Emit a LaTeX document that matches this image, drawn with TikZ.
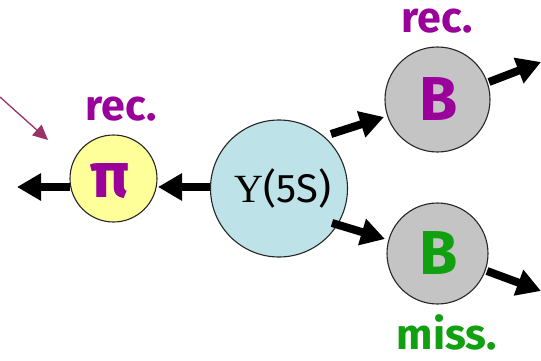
\documentclass[tikz,border=0pt]{standalone}
\usepackage{fontspec}
\setmainfont{Fira Sans}
\newfontfamily\serifgr{Liberation Serif}
\usetikzlibrary{arrows.meta}
\definecolor{recpurple}{HTML}{9A009A}
\definecolor{missgreen}{HTML}{10A010}
\definecolor{piyellow}{HTML}{FFFF99}
\definecolor{upscyan}{HTML}{BDE3E8}
\definecolor{bgray}{HTML}{C4C4C4}
\definecolor{thinarrow}{HTML}{993366}
\tikzset{
  ball/.style={circle, draw=black!85, line width=1.1pt, inner sep=0pt},
  fat/.style={line width=8pt, -{Triangle[length=24pt,width=26pt]}},
  lab/.style={font=\fontsize{43}{43}\selectfont\bfseries, inner sep=0pt, anchor=base},
}
\begin{document}
\begin{tikzpicture}[x=1pt,y=-1pt]
\useasboundingbox (0,0) rectangle (541,361);
\node[ball, fill=piyellow, minimum size=87pt] (pi) at (113.5,178.5) {};
\node[text=recpurple, font=\fontsize{64}{64}\selectfont\bfseries, inner sep=0pt] (pit) at (110,181) {π};
\node[ball, fill=upscyan, minimum size=137pt] (ups) at (279,188.5) {};
\node[inner sep=0pt, font=\fontsize{40}{40}\selectfont] (upst) at (283,188) {{\serifgr Υ}(5S)};
\node[ball, fill=bgray, minimum size=105pt] (b1) at (437.5,99.5) {};
\node[text=recpurple, font=\fontsize{62}{62}\selectfont\bfseries, inner sep=0pt] (b1t) at (439,99) {B};
\node[ball, fill=bgray, minimum size=101pt] (b2) at (437.5,253.5) {};
\node[text=missgreen, font=\fontsize{62}{62}\selectfont\bfseries, inner sep=0pt] (b2t) at (439,253) {B};
\node[lab, text=recpurple] (r1) at (121,120) {rec.};
\node[lab, text=recpurple] (r2) at (437,33) {rec.};
\node[lab, text=missgreen] (m2) at (447,349) {miss.};
\coordinate (pil) at (17,187);
\coordinate (pie) at (70,187);
\coordinate (pir) at (158,187);
\coordinate (upsw) at (210,187);
\coordinate (upsa) at (331,134);
\coordinate (b1a) at (384,117);
\coordinate (upsb) at (332,223);
\coordinate (b2a) at (385,239);
\coordinate (b1o) at (489,82);
\coordinate (b1r) at (541,62);
\coordinate (b2o) at (487,271);
\coordinate (b2r) at (541,291);
\coordinate (ts) at (0,97);
\coordinate (te) at (48,140);
\draw[fat] (pie) -- (pil);
\draw[fat] (upsw) -- (pir);
\draw[fat] (upsa) -- (b1a);
\draw[fat] (upsb) -- (b2a);
\draw[fat] (b1o) -- (b1r);
\draw[fat] (b2o) -- (b2r);
\draw[thinarrow, line width=1.3pt, -{Triangle[length=15pt,width=14pt]}] (ts) -- (te);
\end{tikzpicture}
\end{document}
